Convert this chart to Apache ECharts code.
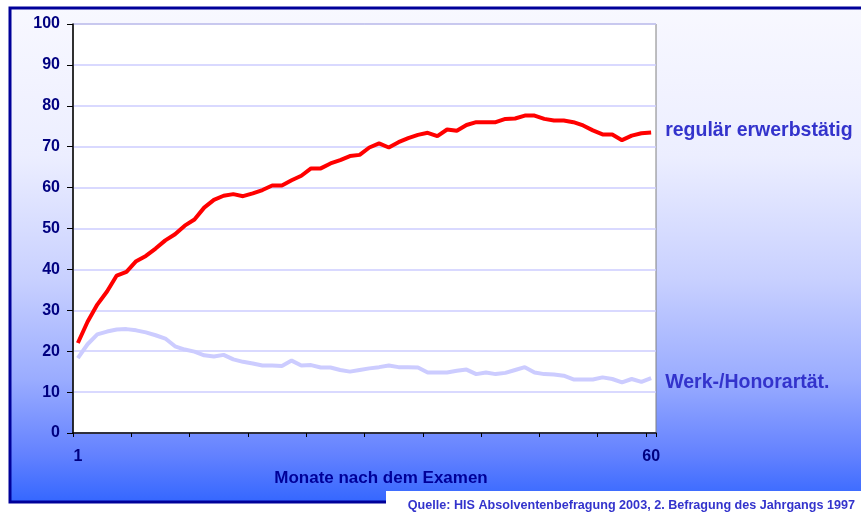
<!DOCTYPE html>
<html>
<head>
<meta charset="utf-8">
<script src="https://cdn.jsdelivr.net/npm/echarts@6/dist/echarts.min.js"></script>
<style>html,body{margin:0;padding:0;background:#fff}#c{width:861px;height:513px}</style>
</head>
<body>
<div id="c"></div>
<script>
const months = Array.from({length: 60}, (_, i) => String(i + 1));
const xTickLabels = ['1', '60'];
const yTicks = [0, 10, 20, 30, 40, 50, 60, 70, 80, 90, 100];
const seriesNames = ['regulär erwerbstätig', 'Werk-/Honorartät.'];
const regular = [22, 27.2, 31.4, 34.6, 38.5, 39.4, 42, 43.3, 45.1, 47.1,
  48.6, 50.7, 52.2, 55.1, 57, 58, 58.4, 57.9, 58.6, 59.4,
  60.5, 60.5, 61.8, 62.9, 64.7, 64.7, 65.9, 66.7, 67.7, 68,
  69.8, 70.8, 69.8, 71.1, 72.1, 72.9, 73.4, 72.6, 74.2, 73.9,
  75.3, 76, 76, 76, 76.8, 76.9, 77.6, 77.6, 76.8, 76.4,
  76.4, 76, 75.2, 74, 73, 73, 71.6, 72.7, 73.3, 73.5];
const werk = [18.3, 21.7, 24.1, 24.8, 25.3, 25.4, 25.1, 24.6, 23.9, 23.1,
  21.2, 20.4, 19.9, 19, 18.7, 19.1, 18, 17.4, 17, 16.5,
  16.5, 16.4, 17.7, 16.5, 16.6, 16, 16, 15.4, 15, 15.4,
  15.8, 16.1, 16.5, 16.1, 16.1, 16, 14.8, 14.8, 14.8, 15.2,
  15.5, 14.4, 14.8, 14.4, 14.7, 15.4, 16.1, 14.8, 14.4, 14.3,
  14, 13.1, 13.1, 13.1, 13.6, 13.2, 12.4, 13.2, 12.5, 13.4];
const axisTitle = 'Monate nach dem Examen';
const source = 'Quelle: HIS Absolventenbefragung 2003, 2. Befragung des Jahrgangs 1997';

const font = '"Liberation Sans", Arial, sans-serif';
const chart = echarts.init(document.getElementById('c'));
chart.setOption({
  animation: false,
  textStyle: {fontFamily: font},
  graphic: [
    {type: 'rect', z: -10, shape: {x: 10, y: 8, width: 858, height: 494},
     style: {fill: new echarts.graphic.LinearGradient(0, 0, 0, 1, [
       {offset: 0, color: '#f8f8ff'}, {offset: 0.3, color: '#eceeff'},
       {offset: 0.55, color: '#c8d0ff'}, {offset: 0.75, color: '#9aacff'},
       {offset: 0.9, color: '#6482ff'}, {offset: 1, color: '#3366ff'}]),
       stroke: '#000099', lineWidth: 3}},
    {type: 'rect', z: 5, shape: {x: 386, y: 491, width: 480, height: 25}, style: {fill: '#ffffff'}},
    {type: 'text', z: 6, right: 6, top: 499,
     style: {text: source, fill: '#3333cc', font: 'bold 12.6px ' + font}}
  ],
  grid: {left: 73, right: 205, top: 24, bottom: 80, containLabel: false, outerBoundsMode: 'none',
    show: true, backgroundColor: '#ffffff', borderColor: '#808080', borderWidth: 1},
  xAxis: {
    type: 'category', data: months, boundaryGap: true,
    name: axisTitle, nameLocation: 'middle', nameGap: 33,
    nameTextStyle: {color: '#000099', fontWeight: 'bold', fontSize: 17, fontFamily: font, padding: [0, 0, 0, 33]},
    axisLine: {lineStyle: {color: '#000000', width: 1.5}},
    axisTick: {show: true, interval: 5, length: 4, inside: false, lineStyle: {color: '#000000'}},
    axisLabel: {interval: 0, margin: 16, color: '#000080', fontWeight: 'bold', fontSize: 16, fontFamily: font,
      formatter: v => (xTickLabels.indexOf(v) >= 0 ? v : '')},
    splitLine: {show: false}
  },
  yAxis: {
    type: 'value', min: yTicks[0], max: yTicks[yTicks.length - 1], interval: 10,
    axisLine: {show: true, lineStyle: {color: '#000000', width: 1.5}},
    axisTick: {show: true, length: 6, lineStyle: {color: '#000000'}},
    axisLabel: {margin: 13, color: '#000080', fontWeight: 'bold', fontSize: 16, fontFamily: font},
    splitLine: {show: true, lineStyle: {color: '#ccccff', width: 1.5}}
  },
  series: [
    {name: seriesNames[0], type: 'line', data: regular, symbol: 'none', z: 3,
     lineStyle: {color: '#ff0000', width: 4},
     endLabel: {show: true, formatter: '{a}', distance: 14, color: '#3333cc', fontWeight: 'bold', fontSize: 19.5, fontFamily: font, offset: [0, -2]}},
    {name: seriesNames[1], type: 'line', data: werk, symbol: 'none', z: 2,
     lineStyle: {color: '#ccccff', width: 4},
     endLabel: {show: true, formatter: '{a}', distance: 14, color: '#3333cc', fontWeight: 'bold', fontSize: 19.5, fontFamily: font, offset: [0, 4]}}
  ]
});
</script>
</body>
</html>
